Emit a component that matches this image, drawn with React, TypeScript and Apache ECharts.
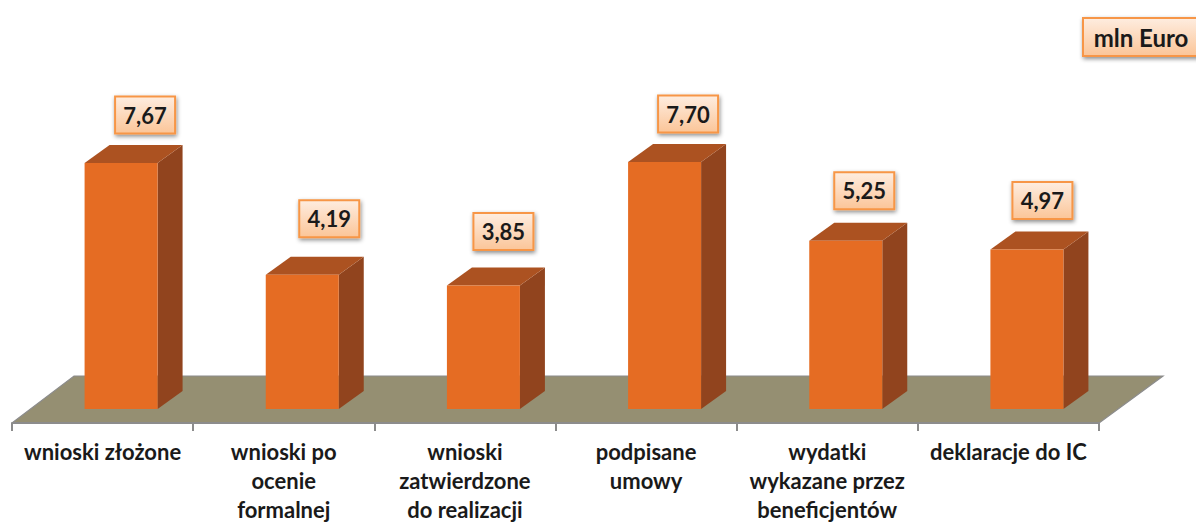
import React, { useEffect, useRef } from "react";
import * as echarts from "echarts";

const categories = [
  "wnioski złożone",
  "wnioski po\nocenie\nformalnej",
  "wnioski\nzatwierdzone\ndo realizacji",
  "podpisane\numowy",
  "wydatki\nwykazane przez\nbeneficjentów",
  "deklaracje do IC",
];
const values = [7.67, 4.19, 3.85, 7.7, 5.25, 4.97];
const unitLabel = "mln Euro";

// Placement of each value box relative to its bar (style, not data)
const labelShiftX = [24, 27, 20, 23.5, 18.5, 15.5];
const labelLiftY = [48, 56, 54, 48, 50, 49];

const FONT = "Lato, 'Noto Sans', sans-serif";
const boxFill = () =>
  new echarts.graphic.LinearGradient(0, 0, 0, 1, [
    { offset: 0, color: "#FEEDE0" },
    { offset: 1, color: "#FBC598" },
  ]);
const boxShadow = {
  shadowBlur: 4,
  shadowColor: "rgba(0,0,0,0.45)",
  shadowOffsetX: 1,
  shadowOffsetY: 2,
};

export default function App() {
  const ref = useRef<HTMLDivElement>(null);
  useEffect(() => {
    const chart = echarts.init(ref.current!, undefined, { renderer: "svg" });
    chart.setOption({
      animation: false,
      backgroundColor: "#ffffff",
      grid: { left: 12, right: 97, top: 88.3, bottom: 114, outerBoundsMode: "none" },
      xAxis: {
        type: "category",
        data: categories,
        offset: 14,
        z: 5,
        axisLine: { show: true, onZero: false, lineStyle: { color: "#8C8C8C", width: 2 } },
        axisTick: { show: true, length: 8, lineStyle: { color: "#8C8C8C", width: 2 } },
        axisLabel: {
          interval: 0,
          margin: 14,
          color: "#1a1a1a",
          fontFamily: FONT,
          fontWeight: "bold",
          fontSize: 22,
          lineHeight: 29,
        },
      },
      yAxis: { type: "value", min: 0, max: 10, show: false },
      series: [
        {
          type: "custom",
          silent: true,
          z: 1,
          data: [[0, 0]],
          renderItem: (params: any) => {
            const c = params.coordSys;
            const front = c.y + c.height + 14;
            const back = front - 47;
            const l = c.x;
            const r = c.x + c.width;
            return {
              type: "group",
              children: [
                {
                  type: "polygon",
                  shape: { points: [[l, front], [r, front], [r + 64, back], [l + 62, back]] },
                  style: { fill: "#958F72" },
                },
                {
                  type: "polyline",
                  shape: { points: [[l, front], [l + 62, back], [r + 64, back], [r, front]] },
                  style: { fill: "none", stroke: "#8C8C8C", lineWidth: 1.2 },
                },
              ],
            };
          },
        },
        {
          type: "custom",
          silent: true,
          z: 6,
          encode: { x: 0, y: 1 },
          data: values.map((v, i) => [i, v]),
          renderItem: (params: any, api: any) => {
            const i = api.value(0);
            const v = api.value(1);
            const [cx, top] = api.coord([i, v]);
            const [, base] = api.coord([i, 0]);
            const w = 73;
            const dx = 25;
            const dy = 18;
            const x0 = cx + 18.5 - w / 2;
            const x1 = x0 + w;
            const bx = x0 + w / 2 + labelShiftX[i];
            const by = top - labelLiftY[i];
            return {
              type: "group",
              children: [
                {
                  type: "polygon",
                  shape: { points: [[x1, top], [x1 + dx, top - dy], [x1 + dx, base - dy], [x1, base]] },
                  style: { fill: "#91441E" },
                },
                {
                  type: "polygon",
                  shape: { points: [[x0, top], [x0 + dx, top - dy], [x1 + dx, top - dy], [x1, top]] },
                  style: { fill: "#AC5221" },
                },
                {
                  type: "rect",
                  shape: { x: x0, y: top, width: w, height: base - top },
                  style: { fill: "#E56C23" },
                },
                {
                  type: "rect",
                  shape: { x: bx - 30, y: by - 18.5, width: 60, height: 37 },
                  style: { fill: boxFill(), stroke: "#F79646", lineWidth: 2, ...boxShadow },
                },
                {
                  type: "text",
                  style: {
                    x: bx,
                    y: by,
                    text: v.toFixed(2).replace(".", ","),
                    fill: "#1a1a1a",
                    font: `bold 22px ${FONT}`,
                    textAlign: "center",
                    textVerticalAlign: "middle",
                  },
                },
              ],
            };
          },
        },
      ],
      graphic: [
        {
          type: "rect",
          shape: { x: 1083, y: 18, width: 125, height: 38 },
          style: { fill: boxFill(), stroke: "#F79646", lineWidth: 2, ...boxShadow },
          z: 10,
        },
        {
          type: "text",
          x: 1141,
          y: 37,
          style: {
            text: unitLabel,
            fill: "#1a1a1a",
            font: `bold 24px ${FONT}`,
            textAlign: "center",
            textVerticalAlign: "middle",
          },
          z: 11,
        },
      ],
    });
    return () => chart.dispose();
  }, []);
  return (
    <div
      ref={ref}
      style={{ position: "absolute", left: 0, top: 0, width: 1196, height: 523 }}
    />
  );
}
